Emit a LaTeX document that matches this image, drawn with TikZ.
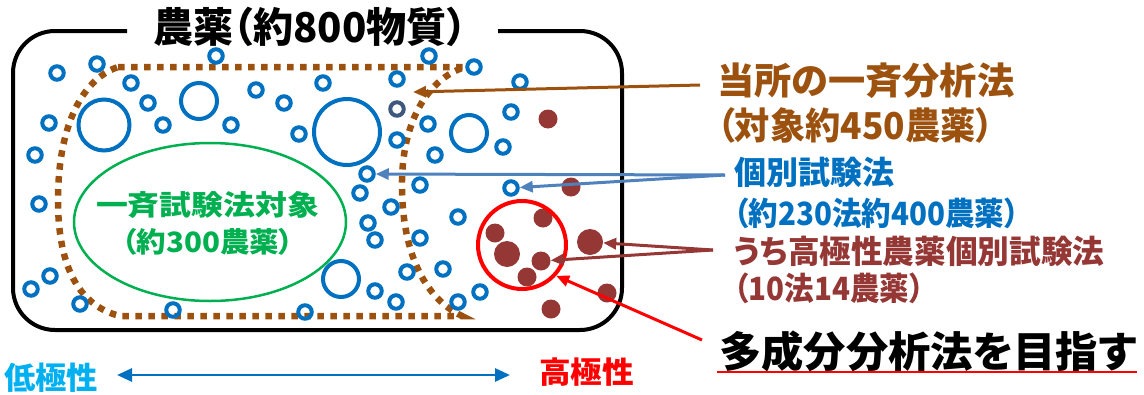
\documentclass[tikz,border=0pt]{standalone}
\usepackage{fontspec}
\usepackage{graphicx}
\setmainfont{Noto Sans CJK JP}[RawFeature=+palt]
\usetikzlibrary{arrows.meta}
\definecolor{brn}{RGB}{156,82,14}
\definecolor{ofblue}{RGB}{0,112,192}
\definecolor{arrblue}{RGB}{79,129,189}
\definecolor{dred}{RGB}{149,55,53}
\definecolor{grn}{RGB}{0,176,80}
\definecolor{cyn}{RGB}{0,176,240}
\definecolor{slate}{RGB}{62,88,125}
\newcommand{\fw}[3]{\resizebox{#1}{\height}{\fontsize{#2}{#2}\selectfont #3}}
\begin{document}
\begin{tikzpicture}[x=1pt,y=-1pt,
  lbl/.style={inner sep=0pt, font=\bfseries},
  ring/.style={circle, draw=ofblue, line width=4pt, inner sep=0pt},
  dotb/.style={circle, fill=dred, inner sep=0pt},
  ptr/.style={line width=3pt, -{Triangle[length=13pt,width=11pt]}},
]
\useasboundingbox (0,0) rectangle (1144,394);

% outer box with gap for the title
\draw[line width=4pt, rounded corners=42pt] (127,31) -- (13,31) -- (13,330) -- (622,330) -- (622,31) -- (498,31);
\node[lbl, anchor=base] (title) at (310,42.6) {\fw{314pt}{41pt}{農薬（約800物質）}};

% brown dotted boundary
\draw[brn, line width=6.5pt, dash pattern=on 6.5pt off 6.5pt]
  (118,67) -- (465,67)
  .. controls (425,80) and (403,125) .. (402,180)
  .. controls (401,240) and (418,295) .. (462,316)
  -- (120,316)
  .. controls (75,305) and (58,260) .. (58,200)
  .. controls (58,130) and (80,80) .. (118,67);

% green ellipse
\draw[grn, line width=2.5pt] (210,222) ellipse [x radius=136pt, y radius=79pt];
\node[lbl, text=grn, anchor=base] (g1) at (207.5,215) {\fw{223pt}{28pt}{一斉試験法対象}};
\node[lbl, text=grn, anchor=base] (g2) at (208,252) {\fw{172pt}{28pt}{（約300農薬）}};

% blue rings
\foreach \px/\py/\d [count=\i] in {
  57/73/13.5, 97/64/13.5, 216/56/13.5, 131/83/13.5, 148/103/13.5, 104/125/51, 199/101/36,
  256/90/13.5, 163/125/13.5, 231/125/13.5, 284/103/13.5, 323/83/13.5, 299/134/13.5, 347/132/66,
  49/123/13.5, 35/155/13.5, 39/204/13.5, 367/174/13.5, 360/193/13.5, 368/223/13.5, 375/240/13.5,
  341/279/36, 375/291/13.5, 50/276/13.5, 31/289/13.5, 80/304/13.5, 173/310/13.5, 305/312/13.5,
  429/56/13.5, 474/67/13.5, 397/79/13.5, 520/82/13.5, 428/124/13.5, 397/140/13.5,
  511/112/13.5, 469/133/36, 503/147/13.5, 435/155/13.5, 420/185/13.5, 511/188/13.5, 391/207/13.5,
  458/217/13.5, 420/238/13.5, 396/302/13.5, 407/272/13.5, 443/269/13.5, 458/302/13.5, 480/292/13.5}
  \node[ring, minimum size=\d pt] (ring\i) at (\px,\py) {};
\node[ring, draw=slate, minimum size=13.5pt] (ringg) at (397,109) {};

% brown (high polarity) dots
\foreach \px/\py/\d [count=\i] in {
  548/119/19, 571/187/19, 543/218/19, 495/233/19, 507/254/26, 541/261/19,
  527/277/19, 590/242/26, 607/293/19, 551/309/19}
  \node[dotb, minimum size=\d pt] (dot\i) at (\px,\py) {};

% red circle
\node[circle, draw=red, line width=4pt, minimum size=88pt, inner sep=0pt] (redc) at (522,245) {};

% right-hand labels
\node[lbl, text=brn, anchor=base west] (t1) at (717,94) {\fw{297pt}{37pt}{当所の一斉分析法}};
\node[lbl, text=brn, anchor=base west] (t2) at (717,139) {\fw{276pt}{37pt}{（対象約450農薬）}};
\node[lbl, text=ofblue, anchor=base west] (t3) at (734,184) {\fw{160pt}{32pt}{個別試験法}};
\node[lbl, text=ofblue, anchor=base west] (t4) at (734,225) {\fw{285pt}{32pt}{（約230法約400農薬）}};
\node[lbl, text=dred, anchor=base west] (t5) at (734,263) {\fw{370pt}{32pt}{うち高極性農薬個別試験法}};
\node[lbl, text=dred, anchor=base west] (t6) at (734,300) {\fw{190pt}{32pt}{（10法14農薬）}};
\node[lbl, anchor=base west] (t7) at (719,367) {\fw{417pt}{42pt}{多成分分析法を目指す}};
\coordinate (ul1) at (717,372);
\coordinate (ul2) at (1137,372);
\draw[red, line width=2pt] (ul1) -- (ul2);

% arrows
\coordinate (sb) at (700,85);
\coordinate (tb) at (413,92);
\draw[ptr, brn] (sb) -- (tb);
\coordinate (sbl) at (725,175);
\draw[ptr, arrblue] (sbl) -- (ring18);
\draw[ptr, arrblue] (sbl) -- (ring40);
\coordinate (sdr) at (713,250);
\draw[ptr, dred] (sdr) -- (dot8);
\draw[ptr, dred] (sdr) -- (dot6);
\coordinate (sr) at (702,340);
\draw[ptr, red] (sr) -- (redc.-42);

% polarity axis
\node[lbl, text=cyn, anchor=base west] (low) at (4,389) {\fw{94pt}{31pt}{低極性}};
\node[lbl, text=red, anchor=base west] (high) at (539,383) {\fw{95pt}{30pt}{高極性}};
\coordinate (pl) at (117,375);
\coordinate (pr) at (510,375);
\draw[ofblue, line width=2.8pt, {Triangle[length=15pt,width=13pt]}-{Triangle[length=15pt,width=13pt]}] (pl) -- (pr);
\end{tikzpicture}
\end{document}
